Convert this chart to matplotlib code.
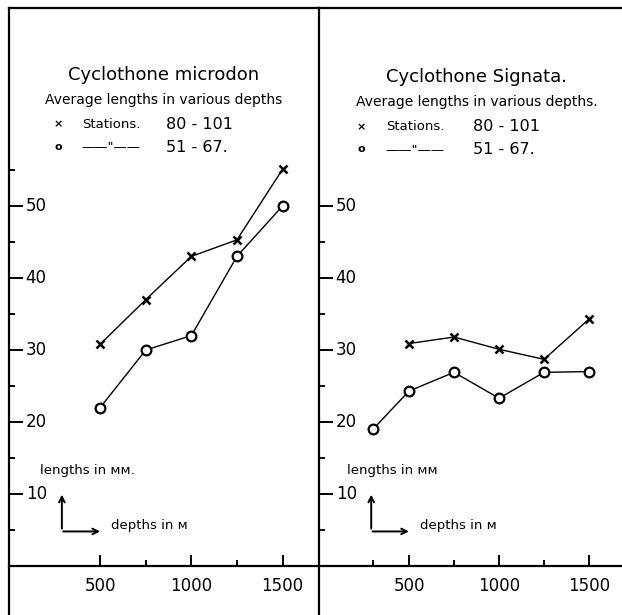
import matplotlib.pyplot as plt
from matplotlib.ticker import FixedLocator
import matplotlib.transforms as mtransforms

# data (depth in m, average length in mm)
depths_micro = [500, 750, 1000, 1250, 1500]
micro_80_101 = [30.8, 37.0, 43.0, 45.3, 55.1]
micro_51_67 = [22.0, 30.0, 32.0, 43.0, 50.0]

depths_sig_80 = [500, 750, 1000, 1250, 1500]
sig_80_101 = [30.9, 31.8, 30.1, 28.7, 34.3]
depths_sig_51 = [300, 500, 750, 1000, 1250, 1500]
sig_51_67 = [19.0, 24.3, 26.9, 23.3, 26.9, 27.0]

titles = ["Cyclothone microdon", "Cyclothone Signata."]
subtitles = ["Average lengths in various depths", "Average lengths in various depths."]
length_labels = ["lengths in ᴍᴍ.", "lengths in ᴍᴍ"]
stations = ["80 - 101", "51 - 67."]
x_major = [500, 1000, 1500]
y_major = [10, 20, 30, 40, 50]

plt.rcParams['font.family'] = ['DejaVu Sans']
W, H = 622, 615
fig = plt.figure(figsize=(W / 100, H / 100), dpi=100)

px_per_unit = 7.2
y0_px = 566
top_px = 8
ymin = -(H - y0_px) / px_per_unit
ymax = (y0_px - top_px) / px_per_unit

ax1 = fig.add_axes([9 / W, 0, (319 - 9) / W, (H - top_px) / H])
ax2 = fig.add_axes([319 / W, 0, (W - 319) / W, (H - top_px) / H])
ax1.set_xlim(0, 1700)
ax2.set_xlim(0, 1683)

panels = [
    (ax1, depths_micro, micro_80_101, depths_micro, micro_51_67, [750, 1250], [5, 15, 25, 35, 45, 55]),
    (ax2, depths_sig_80, sig_80_101, depths_sig_51, sig_51_67, [300, 750, 1250], [5, 15, 25, 35, 45]),
]

for i, (ax, xa, ya, xb, yb, xminor, yminor) in enumerate(panels):
    ax.set_ylim(ymin, ymax)
    ax.patch.set_visible(False)
    for s in ['left', 'top', 'bottom']:
        ax.spines[s].set_linewidth(1.6)
    ax.spines['right'].set_visible(False)
    ax.spines['bottom'].set_position(('data', 0))

    ax.plot(xa, ya, color='black', lw=1.0, marker='x', ms=6, mew=1.8, zorder=3)
    ax.plot(xb, yb, color='black', lw=1.0, marker='o', ms=7, mew=1.6,
            mfc='white', zorder=3)

    # x ticks: pointing up from the axis line, labels below
    ax.xaxis.set_major_locator(FixedLocator(x_major))
    ax.xaxis.set_minor_locator(FixedLocator(xminor))
    ax.tick_params(axis='x', which='major', direction='in', length=8, width=1.4,
                   pad=8, labelsize=12)
    ax.tick_params(axis='x', which='minor', direction='in', length=4, width=1.4)

    # y ticks: pointing inward, labels drawn inside the box
    ax.yaxis.set_major_locator(FixedLocator(y_major))
    ax.yaxis.set_minor_locator(FixedLocator(yminor))
    ax.tick_params(axis='y', which='major', direction='in', length=10, width=1.4,
                   labelleft=False)
    ax.tick_params(axis='y', which='minor', direction='in', length=4, width=1.4)
    trans = mtransforms.blended_transform_factory(ax.transAxes, ax.transData)
    off = mtransforms.offset_copy(trans, fig=fig, x=12, y=0, units='points')
    for v in y_major:
        ax.text(0, v, f"{v}", transform=off, ha='left', va='center', fontsize=12)

    # headings and key
    cx = 0.5 if i == 0 else 0.52
    dy = 0.004 * i
    ax.text(cx, 0.89 - dy, titles[i], transform=ax.transAxes,
            ha='center', va='center', fontsize=13)
    ax.text(cx, 0.849 - dy, subtitles[i], transform=ax.transAxes,
            ha='center', va='center', fontsize=10)
    kx = [0.16, 0.235, 0.506] if i == 0 else [0.14, 0.22, 0.508]
    for r, lab in enumerate(["Stations.", '——"——']):
        ky = 0.808 - 0.037 * r - dy
        ax.text(kx[0], ky, '×' if r == 0 else 'o', transform=ax.transAxes,
                ha='center', va='center', fontsize=8, fontweight='bold')
        ax.text(kx[1], ky, lab, transform=ax.transAxes, ha='left', va='center',
                fontsize=9.5)
        ax.text(kx[2], ky, stations[r], transform=ax.transAxes, ha='left',
                va='center', fontsize=11.5)

    # axis description with arrows
    ax.text(170 if i == 0 else 155, 13.3, length_labels[i], fontsize=9.5,
            ha='left', va='center')
    ax.annotate("", xy=(290, 10.3), xytext=(290, 4.8),
                arrowprops=dict(arrowstyle='->', lw=1.4, color='black'))
    ax.annotate("", xy=(515, 4.8), xytext=(282, 4.8),
                arrowprops=dict(arrowstyle='->', lw=1.4, color='black'))
    ax.text(560, 5.6, "depths in ᴍ", fontsize=9.5, ha='left', va='center')

fig.savefig("out.png", dpi=100)
